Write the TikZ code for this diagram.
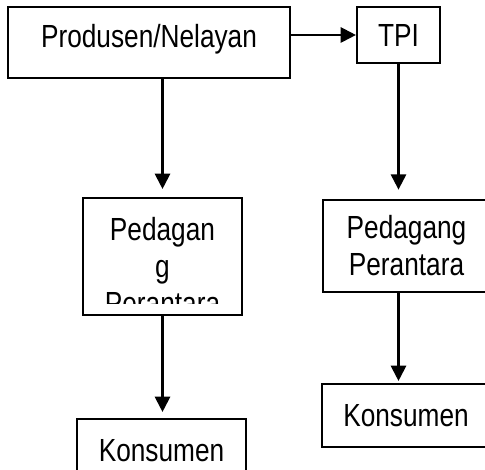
\documentclass[tikz,border=0pt]{standalone}
\usepackage{fontspec}
\setmainfont{Liberation Sans}[FakeStretch=0.82]
\usetikzlibrary{arrows.meta}

\begin{document}
\begin{tikzpicture}[
        x                 = 0.75pt,
        y                 = -0.75pt,
        every node/.style = {font=\fontsize{24pt}{27.75pt}\selectfont},
        box/.style        = {draw, line width=1.6pt, inner sep=0pt},
        arr/.style        = {draw, line width=1.6pt, -{Triangle[width=11.5pt, length=11.5pt]}},
    ]
    \clip (0,0) rectangle (485,470);

    \node [box, minimum width=211.5pt, minimum height=53.25pt,
           text height=20pt, text depth=12pt] (prod) at (149,42.5) {Produsen/Nelayan};
    \node [box, minimum width=62.25pt, minimum height=42pt] (tpi) at (398.5,35) {TPI};
    \node [box, minimum width=119.25pt, minimum height=87.75pt] (pdgA) at (162.5,256.5) {};
    \node [box, minimum width=125.25pt, minimum height=69pt, align=center] (pdgB) at (406.5,246) {Pedagang\\Perantara};
    \node [box, minimum width=126.75pt, minimum height=47.25pt] (konsA) at (161.5,450.5) {Konsumen};
    \node [box, minimum width=126pt, minimum height=47.25pt] (konsB) at (406,415.5) {Konsumen};

    % text of the left box is cut off at the bottom
    \begin{scope}
        \clip (pdgA.north west) rectangle (242,303);
        \node [align=center, inner sep=0pt] (pdgAtext) at (162.5,266) {Pedagan\\g\\Perantara};
    \end{scope}

    \draw [arr] (prod.east |- tpi.west) -- (tpi.west);
    \draw [arr, shorten >=6pt] (prod.south -| pdgA.north) -- (pdgA.north);
    \draw [arr, shorten >=7pt] (tpi.south) -- (tpi.south |- pdgB.north);
    \draw [arr, shorten >=4.5pt] (pdgA.south) -- (pdgA.south |- konsA.north);
    \draw [arr, shorten >=1.5pt] (pdgB.south -| tpi.south) -- (tpi.south |- konsB.north);
\end{tikzpicture}
\end{document}
